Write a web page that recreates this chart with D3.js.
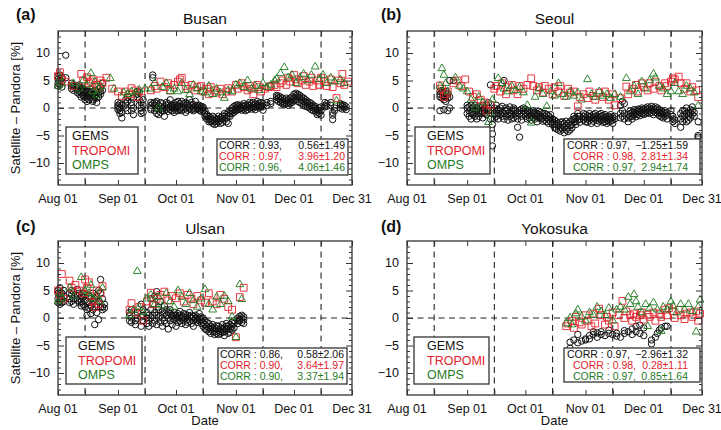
<!DOCTYPE html>
<html><head><meta charset="utf-8">
<script src="https://cdn.jsdelivr.net/npm/d3@7"></script>
<style>
body{margin:0;background:#fff}
svg{display:block;font-family:"Liberation Sans",Arial,Helvetica,sans-serif}
</style></head>
<body><svg id="c" width="721" height="430"></svg>
<script>
// ---------------- DATA ----------------
const stations = ["Busan", "Seoul", "Ulsan", "Yokosuka"];
const panelLetters = ["(a)", "(b)", "(c)", "(d)"];
const seriesNames = ["GEMS", "TROPOMI", "OMPS"];
const yTickValues = [-10, -5, 0, 5, 10];
const xTickLabels = ["Aug 01", "Sep 01", "Oct 01", "Nov 01", "Dec 01", "Dec 31"];
const xTickDays = [0, 31, 61, 92, 122, 152];      // days since Aug 01
const midMonthDays = [14, 45, 75, 106, 136];       // 15th of each month
const yDomain = [-14, 14];
const xDomainDays = [0, 152];

// statistics: correlation, mean, std (GEMS, TROPOMI, OMPS)
const corrBusan = [0.93, 0.97, 0.96], meanBusan = [0.56, 3.96, 4.06], sdBusan = [1.49, 1.20, 1.46];
const corrSeoul = [0.97, 0.98, 0.97], meanSeoul = [-1.25, 2.81, 2.94], sdSeoul = [1.59, 1.34, 1.74];
const corrUlsan = [0.86, 0.90, 0.90], meanUlsan = [0.58, 3.64, 3.37], sdUlsan = [2.06, 1.97, 1.94];
const corrYoko = [0.97, 0.98, 0.97], meanYoko = [-2.96, 0.28, 0.85], sdYoko = [1.32, 1.11, 1.64];

// GEMS: [day, values...]
const gemsBusan = [
[0,4.5,5.2,5.8,4.0],[1,5.0,4.2,6.0],[2,4.8,5.5,3.8],[4,9.6,5.5],[7,4.0,3.5,4.5],[8,3.8,4.2,3.2],
[10,3.5,4.0,2.8],[11,3.0,2.5,3.8,4.2],[12,2.8,3.2,2.0,3.6],[13,2.5,3.0,3.5,2.2],[14,2.0,2.8,3.2,1.5],
[15,1.2,2.2,3.0,1.8],[16,2.5,3.0,1.5],[17,2.0,3.5,2.8],[18,1.5,2.5,3.0,1.2],[19,2.2,3.2,1.8],
[20,1.0,1.8,2.5,3.0],[21,2.8,3.5,2.0],[22,3.0,3.8,2.5],[23,4.5,3.2],
[31,1.0,0.5,-0.3,0.2],[32,0.8,-0.5,-1.0,0.0],[33,-1.8,-0.8,0.5],[35,1.5,0.8,0.0],[36,2.0,1.2,-0.5],
[38,1.0,-0.5,0.5],[39,-1.2,0.0,1.8],[41,3.0,2.5,2.0],[42,2.8,1.5,0.5],[43,1.0,0.0,-0.5,-1.0],[44,0.5,-0.8,1.5],
[48,0.5,0.0,1.0,-0.3],[49,5.5,6.0,0.8],[50,0.5,-0.5,1.0],[51,0.0,-1.0,0.8,1.2],[52,-0.3,0.5,-1.2],
[53,0.2,-0.8,1.0],[54,0.0,0.8,-0.5],[55,-1.5,-0.5,0.3],[56,0.5,1.0,-0.2],[57,0.0,0.8,-0.6],[58,1.5,0.3,-0.3],
[59,0.5,-0.5,0.2],[60,0.8,0.0,-0.8],[61,0.0,0.5,1.0,-0.4],[62,0.3,-0.5,1.2],[63,0.8,0.0,-0.3],[64,1.2,0.2,-0.5],
[65,0.5,-0.2,0.8],[66,1.0,0.0,-0.8],[67,0.3,0.8,-0.4],[68,1.5,0.2,-0.2],[69,0.5,-0.3,1.0],[70,0.0,0.6,-0.5],
[71,1.2,0.3,-0.2],[72,0.5,-0.2,0.2],[73,0.0,0.5,-0.4],[74,-0.2,0.3,-0.6],[75,0.2,-0.5,0.0],
[76,-1.0,-1.5,-0.5],[77,-1.5,-2.0,-1.2],[78,-2.0,-1.5,-2.5],[79,-1.8,-2.5,-2.2],[80,-2.2,-2.8,-1.5],
[81,-2.5,-1.8,-3.0],[82,-2.0,-2.8,-2.4],[83,-2.5,-1.5,-2.0],[84,-2.8,-2.2,-1.8],[85,-2.0,-2.6,-1.5],
[86,-1.5,-2.2,-1.0],[87,-1.2,-1.8,-2.5],[88,-1.5,-0.8,-2.8],[89,-1.0,-0.5,-1.5],[90,-0.5,0.0,-1.0],
[91,-0.3,0.3,-0.8],[92,0.0,-0.5,0.5],[93,0.2,-0.3,0.6],[94,-0.2,0.4,0.0],[95,0.5,0.0,-0.4],[96,0.3,0.8,-0.2],
[97,0.0,0.5,-0.5],[98,0.6,0.2,-0.3],[99,0.4,1.0,0.0],[100,0.8,0.2,-0.2],[101,0.5,1.0,0.0],[102,0.2,0.7,-0.3],
[103,0.6,1.2,0.3],[104,0.9,0.4,0.0],[105,0.5,1.0,0.2],[106,0.8,0.3,-0.4],[108,1.0,0.5],[110,1.2,0.8],
[113,2.0,1.5,2.3],[114,1.8,2.2,1.2],[115,1.5,2.0,1.0],[116,1.2,1.8,0.8],[117,1.0,1.5,0.6],[118,0.8,1.3,1.8],
[119,1.0,0.5,1.5],[120,1.2,0.8,1.8],[121,1.5,2.0,1.0],[122,1.8,2.5,1.3],[123,2.2,1.5,2.7],[124,2.0,1.2,2.5],
[125,1.8,2.3,1.0],[126,1.5,2.0,0.8],[127,1.2,1.8,0.5],[128,1.0,1.5,0.3],[129,0.8,1.2,0.2],[130,0.5,1.0,0.0],
[131,0.3,0.8,-0.3],[132,0.5,0.0,-0.5],[133,0.0,-0.5,0.3],[134,-0.8,-1.2,-0.3],[135,-1.0,-0.5,0.0],
[136,-0.5,0.2,-1.3],[138,0.5,1.0,0.2],[139,0.8,0.3],[141,0.5,1.0],[142,-1.3,-2.1,-0.8],[143,-0.5,0.0],
[146,0.5,0.0,0.8],[147,0.3,-0.2,0.6],[148,0.0,0.5],[149,0.2,-0.3]
];
const tropomiBusan = [[0,5.8],[1,6.5],[2,5.2],[4,4.8],[8,4.0],[12,6.2],[13,5.0],[15,5.6],[16,4.5],[17,4.8],[18,5.2],[20,4.2],[21,3.8],[22,5.0],[23,4.5],[25,5.5],[28,3.5],[31,3.0],[33,2.2],[35,3.0],[37,2.5],[38,3.6],[40,3.2],[41,2.0],[43,3.0],[48,3.2],[50,4.0],[51,3.5],[53,4.8],[55,3.8],[57,4.5],[58,3.2],[60,4.2],[62,4.8],[63,5.2],[64,5.5],[66,4.0],[67,3.5],[69,4.2],[71,3.2],[72,3.8],[74,4.0],[75,3.0],[77,3.5],[78,2.5],[79,3.8],[81,3.2],[82,2.8],[84,3.5],[85,2.5],[87,3.0],[88,3.6],[90,3.0],[92,4.2],[93,3.5],[95,4.5],[96,3.8],[98,3.2],[99,4.0],[100,3.5],[101,2.5],[103,4.2],[104,3.8],[105,3.0],[107,3.5],[109,3.8],[110,4.0],[112,4.2],[113,3.8],[115,4.5],[116,5.0],[118,4.2],[119,5.5],[120,4.8],[122,6.0],[123,5.2],[124,4.5],[126,5.0],[127,5.8],[128,4.2],[130,4.8],[131,5.5],[132,4.0],[134,5.0],[135,4.2],[136,5.5],[138,4.8],[139,4.0],[141,5.2],[142,3.8],[144,1.8],[145,5.0],[146,4.5],[147,6.2],[148,4.2],[150,4.8]];
const ompsBusan = [[0,4.0],[1,5.5],[2,4.5],[8,4.5],[11,3.5],[13,5.0],[15,4.2],[17,6.3],[18,3.0],[19,4.8],[20,2.4],[21,3.5],[22,4.0],[27,5.4],[29,3.5],[34,2.8],[36,2.5],[38,3.0],[40,2.8],[42,3.3],[45,3.5],[48,3.5],[50,4.5],[52,0.0],[54,3.8],[56,4.5],[58,3.0],[60,3.5],[62,3.0],[64,4.5],[66,3.2],[68,2.5],[70,4.2],[72,3.5],[74,3.0],[76,2.8],[78,4.0],[80,2.5],[82,3.5],[84,2.8],[86,1.8],[88,3.2],[90,3.0],[92,4.2],[94,4.5],[96,3.8],[98,5.0],[100,3.5],[102,4.0],[104,3.2],[106,4.5],[108,3.8],[110,4.2],[112,5.0],[113,5.3],[115,6.3],[117,7.4],[119,5.5],[121,6.0],[123,4.5],[125,5.5],[127,6.2],[129,5.0],[131,6.0],[133,7.5],[135,5.2],[137,6.0],[139,4.5],[141,5.5],[143,4.8],[144,1.3],[146,5.2],[148,4.5]];

const gemsSeoul = [
[17,2.5,3.0,2.0,-0.5],[18,2.8,1.8,3.2],[19,2.2,1.5,2.8,-0.3],[20,2.0,3.0,1.2],[21,1.8,2.5,-0.5],[22,5.0,2.0,0.0],[24,5.0],
[31,0.0,-1.0,0.5],[32,-0.5,-1.5,0.2],[33,0.5,-1.0,-2.0],[34,-0.8,-1.2,0.0],[35,-1.5,-0.5,0.5],[36,0.0,-1.0,-2.0],
[37,-0.5,0.3,-1.5],[38,-1.0,0.0,-0.5],[39,-1.8,-0.8,0.5],[40,0.0,-1.0,-0.3],[41,-0.5,0.5,-1.2],[42,1.0,-0.5,0.0],
[43,4.2,-1.0,-2.0],[44,-4.7,-3.0,-6.9,-0.5],[45,-1.0,0.0,-2.0],[46,-0.5,-1.5,0.5],[47,-1.0,-0.3,-2.0],[48,0.0,-1.2,-0.5],
[49,-1.5,-0.8,0.3],[50,5.0,-1.0,-2.0],[51,-0.5,-1.5,0.0],[52,-1.0,-0.3,-2.2],[53,-0.8,0.2,-1.5],[54,-1.2,-0.5,-2.0],
[55,-0.3,-1.8,0.0],[56,-1.0,-0.5,-1.5],[57,-2.0,-0.8,-3.5],[58,-5.3,-1.0,-0.5],[59,-1.5,-0.2,-2.2],[60,-1.0,0.0,-0.5],
[61,-0.8,-1.5,-0.2],[62,-1.2,-2.0,-0.5],[63,-0.5,-1.0,-1.8],[64,-1.5,-0.8,-2.2],[65,-1.0,-1.8,-0.5],[66,-2.0,-1.2,-0.8],
[67,-1.5,-2.5,-1.0],[68,-1.2,-1.8,-0.6],[69,-2.0,-1.5,-0.8],[70,-1.8,-1.0,-2.4],[71,-1.5,-2.2,-1.0],[72,-1.2,-1.8,-2.5],
[73,-2.0,-1.4,-2.8],[74,-1.8,-2.5,-1.2],[75,-2.5,-2.0,-3.0],[76,-2.8,-2.2,-3.5],[77,-3.0,-2.5,-3.8],[78,-3.2,-2.8,-4.0],
[79,-3.5,-2.6,-4.2],[80,-3.0,-3.8,-2.5],[81,-3.5,-4.5,-2.8],[82,-3.2,-4.0,-2.4],[83,-2.8,-3.6,-4.3],[84,-2.5,-3.2,-4.0],
[85,-2.2,-3.0,-3.6],[86,-2.0,-2.6,-1.5],[87,-1.8,-2.5,-3.0],[88,-1.5,-2.2,-1.0],[89,-2.0,-1.5,-2.6],[91,-1.5,-2.2,-1.0],
[92,-1.8,-2.5,-1.2],[93,-2.0,-1.4,-2.6],[94,-1.6,-2.2,-1.0],[95,-2.0,-1.5,-2.8],[96,-1.2,-1.8,-2.4],[97,-1.5,-2.0,-1.0],
[98,-2.2,-1.6,-2.8],[99,-1.8,-1.2,-2.4],[100,-1.5,-2.2,-1.0],[101,-2.0,-1.4,-2.6],[102,-1.8,-2.5,-1.2],[103,-1.6,-2.2,-2.8],
[104,-2.0,-1.5,-2.5],[105,-1.8,-2.4,-1.2],[106,-2.2,-1.6,-2.8],[107,-1.5,-2.0],[110,-1.0,-1.8,0.5],[111,1.2,-0.5,-1.5],
[112,0.8,-1.0,-2.0],[114,-1.2,-1.8,-2.5],[115,-1.0,-1.5,-0.5],[116,-1.5,-0.8,-2.0],[117,-0.8,-1.2,-0.3],[118,-1.0,-0.5,-1.6],
[119,-0.6,-1.2,-0.2],[120,-0.8,-0.3,-1.4],[121,-0.5,-1.0,0.0],[122,-0.2,-0.8,-1.2],[123,-0.5,0.0,-1.0],[124,-0.3,-0.8,0.2],
[125,0.0,-0.5,-1.0],[126,-0.2,0.3,-0.8],[127,0.0,-0.5,-1.2],[128,-0.3,0.2,-0.8],[129,-0.5,-1.0,0.0],[130,-0.8,-1.4,-0.3],
[131,-1.0,-0.5,-1.6],[132,-1.2,-0.8,-1.8],[133,-1.0,-1.5,-0.5],[134,-0.8,-1.3,-2.0],[136,-1.2,-0.5],[137,-2.5,-2.0,-1.5],
[138,-2.2,-2.8],[141,-2.0,-3.5,-1.0],[142,-1.5,-2.5,-0.5],[143,-0.5,-1.2,-2.0],[144,-1.0,0.0,-2.5],[145,-1.5,-0.8,-2.2],
[146,-1.0,-0.3,-1.8],[147,-0.5,-1.2,0.2],[148,-0.8,-1.5],[150,-5.0,-5.3,-2.5]
];
const tropomiSeoul = [[17,4.1],[18,3.5],[19,2.0],[20,2.5],[21,3.0],[24,4.5],[26,5.0],[28,4.0],[30,5.2],[32,3.0],[34,2.0],[36,2.5],[38,1.5],[40,1.0],[41,-0.5],[43,0.5],[45,3.5],[46,4.0],[48,3.0],[49,4.5],[51,2.5],[52,3.8],[54,4.2],[55,3.2],[57,2.5],[58,4.0],[60,3.5],[62,4.2],[64,5.4],[65,4.0],[67,3.2],[68,3.8],[70,2.8],[71,4.0],[73,3.5],[75,2.5],[76,3.8],[78,3.0],[79,4.0],[81,2.2],[83,3.5],[84,2.8],[86,3.0],[88,0.3],[89,2.0],[91,2.5],[93,1.8],[94,3.0],[96,2.2],[97,1.5],[99,2.8],[101,2.0],[102,3.0],[104,1.5],[106,2.5],[107,0.5],[110,1.8],[113,3.9],[114,2.5],[116,3.5],[118,4.2],[119,3.0],[121,4.5],[122,3.8],[124,3.2],[125,4.5],[127,3.5],[128,4.8],[130,4.0],[131,3.2],[133,4.5],[134,4.0],[136,4.8],[137,5.4],[138,5.2],[140,5.7],[141,4.5],[143,3.5],[144,4.5],[146,3.0],[147,3.8],[149,3.2],[150,2.0]];
const ompsSeoul = [[17,4.0],[18,7.2],[19,6.0],[20,4.5],[21,3.0],[25,5.5],[27,4.0],[29,3.5],[31,3.0],[33,1.5],[35,0.0],[37,2.0],[39,1.0],[42,-2.6],[43,-1.0],[44,1.5],[47,5.4],[49,4.5],[50,3.5],[52,3.0],[54,4.0],[56,3.2],[58,3.8],[60,2.8],[62,0.5],[64,-2.7],[66,2.0],[68,3.5],[70,2.5],[72,0.3],[74,3.0],[76,2.2],[78,4.5],[80,2.5],[82,2.0],[84,3.0],[86,2.2],[88,2.8],[90,1.5],[93,5.2],[95,2.5],[97,2.0],[99,3.0],[101,2.2],[103,2.5],[105,1.8],[107,2.5],[110,2.0],[113,5.4],[115,3.0],[117,4.0],[119,2.5],[121,4.8],[123,3.5],[125,5.0],[127,6.2],[128,5.5],[130,4.0],[132,3.5],[134,2.5],[136,3.0],[138,4.5],[140,3.0],[142,2.5],[144,4.0],[146,3.5],[148,2.8],[150,0.4]];

const gemsUlsan = [
[0,3.5,4.5,2.8,5.0],[1,4.0,3.0,5.5,2.5],[2,4.5,3.5,2.8],[3,3.0,4.0,5.0],[6,3.5,4.5,2.8],[7,4.2,3.0,5.0],[8,3.5,4.8,2.5],
[10,4.0,3.2,5.2],[11,3.5,2.8,4.5],[12,3.0,4.0,2.2],[13,2.5,3.8,4.5],[14,3.2,2.0,4.2],[15,1.5,3.0,0.5],[16,2.8,4.0,1.8],
[17,3.5,2.2,0.8],[18,1.5,3.0,4.5],[19,2.0,-1.2,3.5],[20,4.0,2.5,1.0],[21,3.0,5.0,-0.3],[22,7.0,4.5,2.0],[23,3.5,2.0,1.5],[24,2.5,1.8],
[37,0.5,-0.5,1.0],[38,0.0,-0.8,1.5],[40,-0.5,0.5,-1.2],[41,1.0,0.0],[43,0.2,-1.5,2.5],[44,1.5,-0.5,0.5],[46,0.0,-1.0,1.0],
[47,-0.5,0.5,-1.5],[48,1.5,0.0,3.5],[49,0.5,-1.0,2.5],[50,4.0,1.0,-0.5],[51,4.8,0.5,-1.2],[52,1.5,0.0,2.0],[53,0.5,-0.8,3.0],
[54,0.0,1.2,-1.5],[55,-0.5,0.8,2.2],[56,0.5,-1.0,1.5],[57,1.0,0.0,-2.0],[58,-0.5,0.8,1.5],[59,0.2,-1.2,0.5],[60,1.0,-0.3,0.5],
[61,0.5,-1.5,0.0],[62,0.0,0.8,-0.8],[63,-0.5,0.5,1.2],[64,0.3,-1.0,0.0],[65,0.8,-0.5,0.2],[66,0.0,-1.2,0.6],[67,-0.3,0.5,-0.8],
[68,0.2,-0.6,1.0],[69,0.0,-1.0,0.5],[70,-0.5,0.3,-1.5],[71,0.5,-0.2,0.0],[72,-0.8,0.2,-0.3],[73,0.0,-0.5,0.8],[74,-0.3,-1.0,0.2],
[75,-0.8,-1.5,0.0],[76,-1.2,-0.5,-2.0],[77,-1.5,-2.2,-0.8],[78,-1.8,-1.0,-2.5],[79,-2.0,-1.5,-2.8],[80,-1.2,-2.4,-1.8],
[81,-2.5,-1.8,-3.0],[82,-2.0,-2.8,-1.4],[83,-1.5,-2.2,-3.0],[84,-2.4,-1.8,-2.8],[85,-2.0,-1.2,-2.6],[86,-1.8,-2.5,-3.2],
[87,-1.5,-2.2,-1.0],[88,-2.0,-2.8,-1.5],[89,-1.2,-2.0,-2.6],[90,-1.5,-0.8,-2.2],[91,-1.0,-1.8,-0.5],[93,-0.5,0.0,-1.0],
[94,0.3,-0.5,-0.2],[95,-0.8,0.0,0.5],[96,-0.3,0.2,-1.0]
];
const tropomiUlsan = [[0,5.0],[1,4.2],[2,8.0],[3,3.5],[6,6.8],[7,5.5],[9,6.0],[11,5.0],[13,4.5],[14,7.0],[15,5.5],[16,6.5],[17,4.0],[18,3.0],[19,2.0],[20,5.0],[21,2.5],[22,4.5],[23,5.8],[37,1.5],[38,2.7],[40,1.0],[42,2.0],[44,-0.5],[46,3.0],[48,4.6],[49,2.5],[51,3.5],[53,4.2],[55,4.8],[57,3.2],[59,4.0],[61,3.6],[63,4.5],[65,3.0],[67,4.2],[69,3.5],[70,2.5],[72,4.0],[74,3.2],[76,2.8],[78,4.5],[80,3.0],[82,2.5],[84,4.2],[86,3.5],[88,2.0],[90,1.5],[92,-3.5],[94,3.8],[96,5.5]];
const ompsUlsan = [[0,3.0],[1,4.5],[2,3.5],[6,5.5],[8,4.0],[12,7.4],[14,5.0],[16,4.5],[17,6.0],[18,3.5],[20,4.2],[22,3.0],[23,5.5],[37,0.5],[39,1.5],[41,8.5],[42,2.0],[44,1.0],[46,3.5],[48,4.2],[50,2.5],[52,3.8],[54,2.2],[56,4.5],[58,3.0],[60,2.0],[62,5.0],[64,3.8],[66,2.5],[68,4.5],[70,3.2],[72,2.0],[74,3.5],[76,5.2],[78,2.5],[80,1.5],[82,3.8],[84,2.5],[86,4.0],[88,3.0],[90,0.2],[92,-3.5],[94,6.1],[95,3.4]];

const gemsYoko = [
[84,-4.4,-5.5],[86,-4.0],[88,-3.0,-4.5],[90,-4.2],[92,-3.8,-4.0],[94,-3.8,-3.2],[96,-3.0,-2.5],[98,-2.7,-3.5],
[100,-3.0,-2.5],[102,-3.2],[104,-2.8,-2.2],[106,-3.0],[108,-3.3,-2.8],[110,-3.5],[112,-2.3,-2.8],[114,-2.5],
[116,-3.0,-2.0],[118,-1.5,-2.5],[120,-1.3,-2.8],[122,-1.8,-3.2],[126,-4.7,-4.0],[128,-3.5],[129,-2.8],[130,-2.2],
[131,-1.8],[133,-1.5],[134,-1.5]
];
const tropomiYoko = [[82,-1.5],[83,-1.0],[85,-0.5],[86,-1.8],[87,0.2],[89,-0.8],[90,-1.2],[92,0.5],[93,-0.5],[95,-1.5],[96,0.8],[97,-1.0],[99,1.7],[100,0.5],[102,-1.2],[103,0.2],[104,-0.5],[106,1.0],[107,-1.5],[109,0.5],[111,3.1],[112,0.0],[113,1.2],[115,0.5],[116,-0.5],[117,0.8],[118,0.2],[120,0.5],[121,1.0],[122,-0.3],[124,0.6],[125,0.2],[127,1.0],[128,-0.5],[130,0.8],[131,0.2],[133,1.5],[134,0.5],[135,1.8],[137,1.2],[138,0.0],[140,1.5],[141,0.5],[143,-0.2],[144,0.8],[146,1.0],[147,0.2],[149,1.2],[150,-0.5],[151,0.8]];
const ompsYoko = [[82,-1.0],[84,0.0],[85,-1.2],[87,0.8],[88,1.5],[90,0.2],[92,-0.5],[94,1.0],[96,0.5],[98,2.0],[100,1.2],[102,0.5],[104,1.8],[106,-0.5],[108,1.5],[110,2.0],[112,1.5],[114,3.8],[115,2.5],[117,4.3],[118,3.0],[119,2.0],[121,1.0],[123,2.5],[124,-1.5],[125,1.8],[127,2.8],[129,1.5],[131,-2.4],[132,2.0],[134,1.5],[136,3.0],[137,2.2],[139,1.0],[141,2.5],[143,1.5],[145,2.5],[147,1.2],[149,-2.5],[150,2.0],[151,3.3]];

// ---------------- LAYOUT ----------------
const colors = ["#111111", "#e3232c", "#1f7a1f"];
const FONT = '"Liberation Sans",Arial,Helvetica,sans-serif';
const panels = [
  {gems:gemsBusan, trop:tropomiBusan, omps:ompsBusan, corr:corrBusan, mean:meanBusan, sd:sdBusan,
   box:[58,352,31,185], leg:{x:66,y:127,w:72,h:47,tx:72}, stat:{x:217,y:139,w:131,h:36,lx:219,rx:345,by:149},
   letter:[16,20], ylab:true, date:false},
  {gems:gemsSeoul, trop:tropomiSeoul, omps:ompsSeoul, corr:corrSeoul, mean:meanSeoul, sd:sdSeoul,
   box:[407,702,31,185], leg:{x:415,y:127,w:75,h:47,tx:427}, stat:{x:564,y:139,w:136,h:35,lx:567,rx:688,by:149},
   letter:[381,20], ylab:false, date:false},
  {gems:gemsUlsan, trop:tropomiUlsan, omps:ompsUlsan, corr:corrUlsan, mean:meanUlsan, sd:sdUlsan,
   box:[58,352,241,395], leg:{x:66,y:337,w:76,h:47,tx:78}, stat:{x:218,y:348,w:129,h:36,lx:220,rx:344,by:358},
   letter:[16,232], ylab:true, date:true},
  {gems:gemsYoko, trop:tropomiYoko, omps:ompsYoko, corr:corrYoko, mean:meanYoko, sd:sdYoko,
   box:[407,702,241,395], leg:{x:414,y:337,w:75,h:47,tx:427}, stat:{x:564,y:348,w:136,h:34,lx:567,rx:688,by:358},
   letter:[381,232], ylab:false, date:true}
];

const svg = d3.select("#c");
const t0 = Date.UTC(2021, 7, 1);
const dayDate = d => new Date(t0 + d * 864e5);
const fmtNum = v => (v < 0 ? "\u2212" : "") + Math.abs(v).toFixed(2);

panels.forEach((p, i) => {
  const [x0, x1, y0, y1] = p.box;
  const x = d3.scaleUtc().domain(xDomainDays.map(dayDate)).range([x0, x1]);
  const y = d3.scaleLinear().domain(yDomain).range([y1, y0]);
  const g = svg.append("g");

  // reference dashed lines
  g.selectAll(".vd").data(midMonthDays).join("line")
    .attr("x1", d => x(dayDate(d))).attr("x2", d => x(dayDate(d)))
    .attr("y1", y0).attr("y2", y1)
    .attr("stroke", "#222").attr("stroke-width", 1.1).attr("stroke-dasharray", "6,4.5");
  g.append("line").attr("x1", x0).attr("x2", x1).attr("y1", y(0)).attr("y2", y(0))
    .attr("stroke", "#222").attr("stroke-width", 1.1).attr("stroke-dasharray", "6,4.5");

  // GEMS circles
  const gp = [];
  p.gems.forEach(([d, ...vs]) => vs.forEach(v => gp.push({d, v})));
  g.selectAll(".gm").data(gp).join("circle")
    .attr("cx", d => x(dayDate(d.d))).attr("cy", d => y(d.v)).attr("r", 3.2)
    .attr("fill", "none").attr("stroke", colors[0]).attr("stroke-width", 1);
  // TROPOMI squares
  g.selectAll(".tr").data(p.trop).join("path")
    .attr("d", d3.symbol(d3.symbolSquare, 46)())
    .attr("transform", d => `translate(${x(dayDate(d[0]))},${y(d[1])})`)
    .attr("fill", "none").attr("stroke", colors[1]).attr("stroke-width", 1).attr("stroke-opacity", 0.9);
  // OMPS triangles
  g.selectAll(".om").data(p.omps).join("path")
    .attr("d", d3.symbol(d3.symbolTriangle, 26)())
    .attr("transform", d => `translate(${x(dayDate(d[0]))},${y(d[1])})`)
    .attr("fill", "none").attr("stroke", colors[2]).attr("stroke-width", 1).attr("stroke-opacity", 0.9);

  // axes (ticks inward on all four sides)
  const tickDays = xTickDays.concat(midMonthDays);
  const axB = g.append("g").attr("transform", `translate(0,${y1})`)
    .call(d3.axisBottom(x).tickValues(tickDays.map(dayDate)).tickSize(-5).tickFormat(""));
  const axT = g.append("g").attr("transform", `translate(0,${y0})`)
    .call(d3.axisTop(x).tickValues(tickDays.map(dayDate)).tickSize(-5).tickFormat(""));
  const minorY = d3.range(-13, 14).filter(v => v % 5 !== 0);
  const axL = g.append("g").attr("transform", `translate(${x0},0)`)
    .call(d3.axisLeft(y).tickValues(yTickValues).tickSize(-6).tickFormat(""));
  const axLm = g.append("g").attr("transform", `translate(${x0},0)`)
    .call(d3.axisLeft(y).tickValues(minorY).tickSize(-3).tickFormat(""));
  const axR = g.append("g").attr("transform", `translate(${x1},0)`)
    .call(d3.axisRight(y).tickValues(yTickValues).tickSize(-6).tickFormat(""));
  const axRm = g.append("g").attr("transform", `translate(${x1},0)`)
    .call(d3.axisRight(y).tickValues(minorY).tickSize(-3).tickFormat(""));
  [axB, axT, axL, axLm, axR, axRm].forEach(a => {
    a.select(".domain").remove();
    a.selectAll("line").attr("stroke", "#333").attr("stroke-width", 1);
  });

  // frame
  g.append("rect").attr("x", x0).attr("y", y0).attr("width", x1 - x0).attr("height", y1 - y0)
    .attr("fill", "none").attr("stroke", "#333").attr("stroke-width", 1.3);

  // tick labels
  g.selectAll(".xl").data(xTickDays).join("text")
    .attr("x", d => x(dayDate(d))).attr("y", y1 + 18)
    .attr("text-anchor", "middle").attr("font-size", 12.5).attr("fill", "#111").attr("font-family", FONT)
    .text((d, k) => xTickLabels[k]);
  g.selectAll(".yl").data(yTickValues).join("text")
    .attr("x", x0 - 8).attr("y", d => y(d) + 4.3)
    .attr("text-anchor", "end").attr("font-size", 12.5).attr("fill", "#111").attr("font-family", FONT)
    .text(d => d < 0 ? "\u2212" + Math.abs(d) : d);

  // title + letter
  g.append("text").attr("x", (x0 + x1) / 2).attr("y", y0 - 7).attr("text-anchor", "middle")
    .attr("font-size", 15.5).attr("fill", "#111").attr("font-family", FONT).text(stations[i]);
  g.append("text").attr("x", p.letter[0]).attr("y", p.letter[1]).attr("font-weight", "bold")
    .attr("font-size", 16).attr("fill", "#111").attr("font-family", FONT).text(panelLetters[i]);

  if (p.ylab) {
    g.append("text").attr("transform", `translate(20,${(y0 + y1) / 2}) rotate(-90)`)
      .attr("text-anchor", "middle").attr("font-size", 13).attr("fill", "#111").attr("font-family", FONT)
      .text("Satellite \u2013 Pandora [%]");
  }
  if (p.date) {
    g.append("text").attr("x", (x0 + x1) / 2).attr("y", y1 + 30).attr("text-anchor", "middle")
      .attr("font-size", 13).attr("fill", "#111").attr("font-family", FONT).text("Date");
  }

  // legend box
  const L = p.leg;
  g.append("rect").attr("x", L.x).attr("y", L.y).attr("width", L.w).attr("height", L.h)
    .attr("fill", "#fff").attr("stroke", "#333").attr("stroke-width", 1.3);
  g.selectAll(".lg").data(seriesNames).join("text")
    .attr("x", L.tx).attr("y", (d, k) => L.y + 13 + k * 14.5)
    .attr("font-size", 12.5).attr("fill", (d, k) => colors[k]).attr("font-family", FONT).text(d => d);

  // statistics box
  const S = p.stat;
  g.append("rect").attr("x", S.x).attr("y", S.y).attr("width", S.w).attr("height", S.h)
    .attr("fill", "#fff").attr("stroke", "#333").attr("stroke-width", 1.3);
  const anyNeg = p.mean.some(v => v < 0);
  seriesNames.forEach((s, k) => {
    const ty = S.by + k * 10.8;
    g.append("text").attr("x", S.lx + (anyNeg && p.mean[k] >= 0 ? 6 : 0)).attr("y", ty)
      .attr("font-size", 10.5).attr("fill", colors[k]).attr("font-family", FONT)
      .text(`CORR : ${p.corr[k].toFixed(2)},`);
    g.append("text").attr("x", S.rx).attr("y", ty).attr("text-anchor", "end")
      .attr("font-size", 10.5).attr("fill", colors[k]).attr("font-family", FONT)
      .text(`${fmtNum(p.mean[k])}\u00b1${p.sd[k].toFixed(2)}`);
  });
});
</script></body></html>
